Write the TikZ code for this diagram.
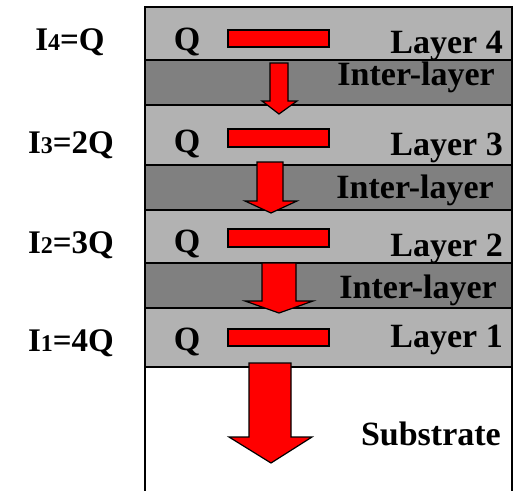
\documentclass[tikz,border=0pt]{standalone}
\usepackage{fontspec}
\setmainfont{Liberation Serif}
\definecolor{layergray}{RGB}{178,178,178}
\definecolor{intergray}{RGB}{128,128,128}
\tikzset{
  layerbox/.style={draw=black, line width=1.4pt, fill=layergray},
  interbox/.style={draw=black, line width=1.4pt, fill=intergray},
  redbar/.style={draw=black, line width=1.2pt, fill=red},
  blockarrow/.style={draw=black, line width=1.2pt, fill=red, line join=miter},
  lbl/.style={font=\fontsize{34}{34}\selectfont\bfseries, inner sep=0pt, anchor=base east},
  qlbl/.style={font=\fontsize{34}{34}\selectfont\bfseries, inner sep=0pt, anchor=base},
  ilbl/.style={font=\fontsize{33}{33}\selectfont\bfseries, inner sep=0pt, anchor=base}
}
\newcommand{\subdig}[1]{{\fontsize{24}{24}\selectfont #1}}
\begin{document}
\begin{tikzpicture}[x=1pt,y=-1pt]
\useasboundingbox (0,0) rectangle (518,490);
\begin{scope}
\clip (0,0) rectangle (518,490);
% substrate sides
\draw[line width=1.4pt] (145,367) -- (145,495);
\draw[line width=1.4pt] (512,367) -- (512,495);
\end{scope}
% layers
\path[layerbox] (145,7) rectangle (512,60);
\path[interbox] (145,60) rectangle (512,105);
\path[layerbox] (145,105) rectangle (512,165);
\path[interbox] (145,165) rectangle (512,210);
\path[layerbox] (145,210) rectangle (512,263);
\path[interbox] (145,263) rectangle (512,308);
\path[layerbox] (145,308) rectangle (512,367);
% red bars
\path[redbar] (228,30) rectangle (329,47);
\path[redbar] (228,129) rectangle (329,147);
\path[redbar] (228,229) rectangle (329,247);
\path[redbar] (228,329) rectangle (329,346);
% block arrows
\path[blockarrow] (270,63) -- (288,63) -- (288,101) -- (297,101) -- (279,114) -- (262,101) -- (270,101) -- cycle;
\path[blockarrow] (257,162) -- (283,162) -- (283,201) -- (297,201) -- (271,213) -- (245,201) -- (257,201) -- cycle;
\path[blockarrow] (262,263) -- (296,263) -- (296,301) -- (313,301) -- (279,313) -- (245,301) -- (262,301) -- cycle;
\path[blockarrow] (249,363) -- (291,363) -- (291,437) -- (312,437) -- (271,463) -- (229,437) -- (249,437) -- cycle;
% right labels
\node[lbl] (t4) at (503,53) {Layer 4};
\node[lbl] (i3) at (495,85) {Inter-layer};
\node[lbl] (t3) at (503,155) {Layer 3};
\node[lbl] (i2) at (494,198) {Inter-layer};
\node[lbl] (t2) at (503,256) {Layer 2};
\node[lbl] (i1) at (497,298) {Inter-layer};
\node[lbl] (t1) at (503,347) {Layer 1};
\node[lbl] (ts) at (501,445) {Substrate};
% Q labels
\node[qlbl] (q4) at (187,50) {Q};
\node[qlbl] (q3) at (187,152) {Q};
\node[qlbl] (q2) at (187,252) {Q};
\node[qlbl] (q1) at (187,350) {Q};
% left current labels
\node[ilbl] (c4) at (70,50) {I\subdig{4}=Q};
\node[ilbl] (c3) at (71,153) {I\subdig{3}=2Q};
\node[ilbl] (c2) at (71,253) {I\subdig{2}=3Q};
\node[ilbl] (c1) at (71,351) {I\subdig{1}=4Q};
\end{tikzpicture}
\end{document}
